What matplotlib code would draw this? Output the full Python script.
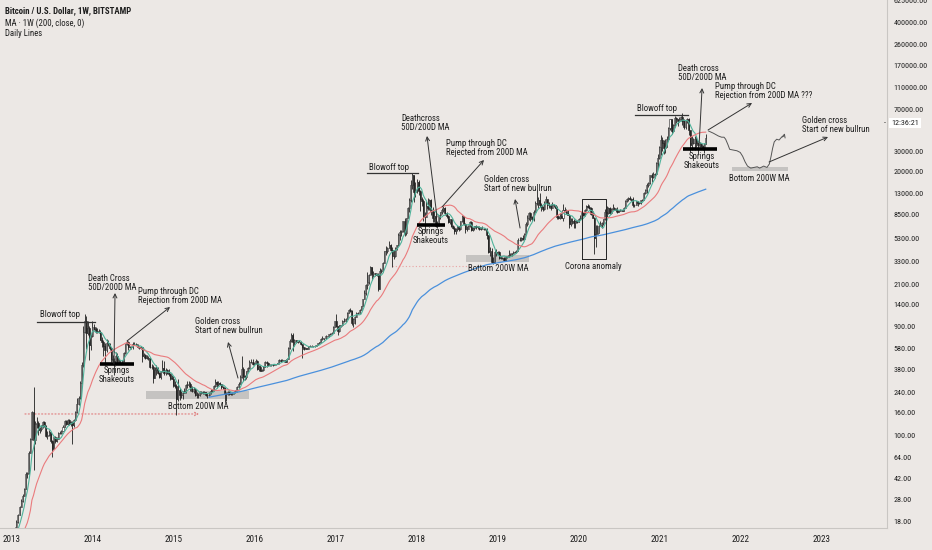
import numpy as np
import pandas as pd
import matplotlib
matplotlib.use('Agg')
from matplotlib import pyplot as plt
from matplotlib import font_manager
from matplotlib.ticker import FixedLocator, FuncFormatter, NullLocator

# weekly closes before the first visible candle (feed the moving averages only)
# 2011-08-15 .. 2012-12-24
early_closes = [11.0, 8.6, 8.2, 7.2, 5.7, 5.3, 4.9, 5.0, 4.1, 3.2,
                3.2, 3.3, 3.0, 2.6, 2.4, 2.8, 3.0, 3.2, 3.9, 4.2,
                6.8, 6.4, 6.3, 5.6, 5.9, 5.6, 4.4, 4.6, 4.9, 4.9,
                5.3, 4.7, 4.9, 4.9, 4.9, 5.0, 5.1, 5.0, 5.1, 5.0,
                5.1, 5.1, 5.4, 5.9, 6.4, 6.7, 6.7, 7.6, 8.5, 8.9,
                9.1, 10.9, 11.5, 10.2, 10.6, 11.0, 11.7, 12.3, 12.4, 12.5,
                12.0, 11.7, 10.9, 10.6, 10.9, 11.2, 12.3, 12.5, 13.3, 13.5,
                13.3, 13.4]

# weekly candles, BITSTAMP, 2012-12-31 .. 2021-07-26
closes_2013 = [13.5, 13.7, 14.2, 17.5, 20.4, 24.0, 27.0, 30.0, 34.5, 46.0,
               47.0, 70.0, 93.0, 162, 91, 127, 128, 112, 115, 123,
               131, 122, 100, 102, 108, 90, 76, 98, 89, 94,
               105, 106, 110, 120, 135, 127, 138, 126, 132, 123,
               137, 160, 190, 211, 290, 410, 800, 1000, 790, 870,
               620, 740, 880]
highs_2013 = [13.8, 14.1, 16.0, 18.5, 20.8, 24.5, 28.0, 31.0, 35.0, 48.5,
              48.5, 74.0, 95.0, 165, 266, 135, 145, 135, 118, 125,
              135, 133, 125, 110, 112, 108, 92, 99, 100, 97,
              108, 109, 113, 124, 137, 136, 140, 140, 134, 133,
              140, 165, 215, 222, 300, 440, 900, 1163, 1100, 1000,
              910, 770, 1010]
lows_2013 = [13.0, 13.3, 13.6, 14.2, 17.3, 20.3, 24.0, 26.5, 29.5, 34.0,
             43.0, 46.0, 70.0, 92, 50, 84, 116, 101, 105, 110,
             117, 118, 98, 94, 99, 86, 65, 76, 86, 88,
             93, 103, 104, 110, 120, 123, 125, 125, 121, 85,
             118, 135, 158, 185, 208, 285, 400, 780, 576, 760,
             455, 560, 720]

closes_2014 = [860, 820, 800, 810, 690, 650, 610, 560, 640, 630,
               580, 470, 450, 420, 500, 440, 440, 440, 450, 525,
               630, 655, 595, 595, 590, 635, 625, 620, 595, 585,
               590, 500, 505, 480, 475, 475, 400, 400, 320, 375,
               390, 355, 325, 365, 390, 350, 375, 350, 345, 320,
               315, 275]
highs_2014 = [950, 880, 870, 850, 830, 720, 690, 640, 700, 680,
              640, 590, 510, 480, 540, 530, 470, 460, 460, 535,
              635, 680, 670, 610, 610, 650, 650, 640, 630, 600,
              600, 595, 530, 520, 510, 500, 480, 420, 410, 400,
              410, 400, 360, 370, 460, 450, 390, 385, 380, 355,
              335, 330]
lows_2014 = [840, 790, 780, 790, 680, 590, 500, 410, 540, 600,
             560, 440, 420, 340, 420, 430, 420, 430, 430, 440,
             520, 620, 560, 580, 570, 575, 615, 615, 580, 570,
             575, 440, 480, 470, 470, 460, 390, 380, 290, 320,
             340, 345, 320, 315, 360, 340, 340, 345, 330, 305,
             310, 265]

closes_2015 = [270, 210, 250, 225, 225, 235, 245, 275, 275, 285,
               260, 245, 255, 225, 225, 225, 240, 240, 237, 240,
               225, 225, 235, 245, 250, 270, 295, 280, 290, 280,
               265, 260, 230, 230, 240, 230, 230, 235, 240, 245,
               265, 285, 325, 380, 330, 325, 370, 390, 435, 440,
               425, 430]
highs_2015 = [300, 285, 310, 260, 245, 245, 260, 285, 300, 300,
              295, 270, 265, 260, 240, 237, 245, 245, 245, 245,
              240, 235, 238, 255, 255, 275, 315, 300, 300, 295,
              285, 270, 265, 240, 245, 245, 235, 240, 245, 250,
              270, 295, 340, 500, 395, 340, 370, 395, 460, 470,
              465, 440]
lows_2015 = [260, 152, 200, 205, 215, 210, 235, 235, 260, 265,
             245, 240, 235, 220, 215, 215, 220, 232, 232, 232,
             222, 215, 220, 230, 240, 245, 265, 260, 270, 275,
             255, 255, 195, 200, 225, 225, 225, 225, 230, 235,
             240, 260, 280, 320, 300, 305, 315, 360, 380, 430,
             410, 415]

closes_2016 = [450, 380, 400, 370, 375, 400, 435, 430, 410, 415,
               412, 415, 420, 420, 430, 460, 450, 460, 455, 440,
               470, 580, 670, 760, 660, 680, 650, 660, 660, 625,
               590, 565, 580, 575, 605, 605, 605, 600, 610, 615,
               640, 655, 700, 705, 705, 740, 735, 765, 775, 790,
               890, 995]
highs_2016 = [465, 460, 410, 410, 385, 405, 445, 445, 440, 420,
              420, 420, 425, 425, 432, 465, 468, 465, 460, 460,
              475, 590, 700, 780, 780, 700, 680, 670, 680, 665,
              630, 595, 590, 585, 610, 615, 615, 610, 615, 620,
              645, 660, 705, 740, 715, 750, 745, 770, 780, 800,
              900, 1000]
lows_2016 = [425, 375, 370, 365, 365, 370, 400, 400, 405, 405,
             405, 405, 410, 415, 420, 425, 440, 445, 440, 435,
             440, 470, 570, 660, 550, 600, 640, 640, 650, 620,
             480, 560, 565, 570, 570, 600, 600, 590, 595, 605,
             615, 630, 650, 680, 690, 700, 725, 730, 750, 765,
             785, 880]

closes_2017 = [900, 820, 920, 915, 1010, 995, 1050, 1180, 1260, 1230,
               970, 1040, 1090, 1180, 1180, 1240, 1345, 1550, 1750, 2050,
               2200, 2520, 2950, 2550, 2600, 2500, 2500, 1920, 2750, 2750,
               3200, 4050, 4050, 4350, 4600, 4200, 3700, 3700, 4370, 4600,
               5650, 6000, 6150, 7400, 5850, 8000, 9700, 11300, 15500, 19000,
               13500, 13800]
highs_2017 = [1150, 910, 930, 925, 1020, 1060, 1060, 1200, 1280, 1300,
              1250, 1065, 1100, 1200, 1210, 1270, 1350, 1560, 1850, 2100,
              2700, 2550, 3000, 2990, 2750, 2600, 2640, 2620, 2900, 2850,
              3250, 4100, 4480, 4400, 4980, 4700, 4400, 4130, 4400, 4650,
              5860, 6200, 6200, 7500, 7900, 8000, 9800, 11800, 17000, 19666,
              18000, 16500]
lows_2017 = [880, 750, 800, 880, 910, 975, 990, 1040, 1170, 1200,
             930, 890, 935, 1080, 1150, 1180, 1240, 1350, 1550, 1700,
             1900, 2100, 2500, 2300, 2400, 2450, 2450, 1840, 2200, 2600,
             2670, 3200, 3800, 3950, 4300, 4100, 2950, 3500, 3600, 4150,
             4550, 5100, 5500, 6000, 5500, 5600, 7900, 9000, 11000, 14300,
             11000, 12000]

closes_2018 = [16200, 13600, 11500, 11100, 8200, 8100, 10100, 9600, 11400, 9100,
               7900, 8300, 6800, 7000, 8350, 8900, 9350, 9700, 8700, 8200,
               7350, 7700, 6750, 6450, 6150, 6400, 6750, 6350, 7400, 8200,
               7000, 6300, 6400, 6700, 7300, 6200, 6500, 6700, 6600, 6600,
               6300, 6400, 6400, 6400, 6350, 5600, 4000, 4100, 3250, 3200,
               4000, 3850, 4000]
highs_2018 = [17250, 17100, 14000, 12000, 11700, 9000, 11200, 11800, 11700, 11600,
              9900, 9100, 8950, 7500, 8450, 9000, 9750, 10000, 9900, 8900,
              8500, 7800, 7800, 6900, 6750, 6550, 6800, 6800, 7500, 8500,
              8250, 7150, 6700, 6900, 7400, 7400, 6600, 6800, 6900, 6800,
              6750, 6600, 6700, 6500, 6500, 6450, 5650, 4400, 4350, 3600,
              4150, 4250, 4100]
lows_2018 = [13200, 12700, 9200, 10100, 7400, 6000, 8100, 9300, 9400, 8350,
             7300, 7300, 6650, 6550, 6750, 7800, 8650, 9000, 8350, 7850,
             7100, 7000, 6650, 6400, 5750, 5800, 6100, 6100, 6250, 7350,
             6950, 5900, 6100, 6300, 6650, 6150, 6150, 6250, 6300, 6400,
             6200, 6200, 6400, 6200, 6250, 5200, 3900, 3700, 3200, 3122,
             3300, 3700, 3850]

closes_2019 = [3550, 3550, 3550, 3400, 3650, 3650, 3750, 3850, 3900, 3980,
               3980, 4120, 5050, 5050, 5300, 5250, 5750, 7050, 8000, 8700,
               8050, 7700, 9000, 10700, 10800, 11400, 10250, 9850, 9500, 10800,
               11550, 10200, 10150, 9600, 10350, 10300, 9700, 8050, 7850, 8300,
               7950, 9250, 9200, 8800, 8500, 7050, 7400, 7500, 7100, 7500,
               7300, 7750]
highs_2019 = [4100, 3700, 3650, 3600, 3700, 3700, 4200, 3950, 3950, 4050,
              4050, 4150, 5300, 5450, 5400, 5650, 5850, 7350, 8350, 8950,
              8950, 8200, 9350, 11250, 13880, 12000, 13200, 10700, 10150, 11100,
              12300, 11650, 10900, 10450, 10900, 10550, 10250, 10000, 8500, 8700,
              8750, 10500, 9950, 9450, 9250, 8600, 7850, 7900, 7700, 7650,
              7550, 7850]
lows_2019 = [3500, 3450, 3450, 3350, 3350, 3550, 3600, 3700, 3700, 3850,
             3950, 3950, 4100, 4950, 5000, 5050, 5300, 5600, 6800, 7550,
             7400, 7450, 7450, 9000, 10300, 9700, 9800, 9100, 9100, 9350,
             10900, 9500, 9600, 9400, 9600, 9900, 9650, 7750, 7700, 7800,
             7850, 7400, 8950, 8700, 8400, 6550, 6800, 7050, 6500, 6450,
             7100, 7250]

closes_2020 = [8000, 8900, 8350, 9350, 10150, 9900, 9650, 8550, 8000, 5350,
               5800, 5900, 6800, 6900, 7100, 7700, 8900, 8700, 9700, 8700,
               9450, 9750, 9450, 9300, 9000, 9050, 9300, 9200, 9700, 11050,
               11700, 11900, 11650, 11700, 10250, 10300, 11100, 10700, 10650, 11300,
               11350, 13100, 13800, 15500, 16000, 18700, 18200, 19150, 19250, 23800,
               26300, 33000]
highs_2020 = [8450, 9000, 8950, 9550, 10200, 10500, 10300, 9950, 9200, 8150,
              6900, 6950, 7200, 7450, 7300, 7750, 9450, 10050, 9950, 9850,
              9600, 10400, 9950, 9600, 9800, 9350, 9450, 9400, 9800, 11450,
              11950, 12100, 12450, 11750, 12100, 10600, 11150, 11000, 11000, 11450,
              11700, 13350, 14100, 15950, 16450, 18800, 19400, 19900, 19450, 24200,
              28400, 34000]
lows_2020 = [7700, 7950, 8250, 8250, 9150, 9700, 9450, 8450, 7900, 3850,
             4450, 5700, 5900, 6850, 6500, 6850, 7600, 8100, 8600, 8650,
             8600, 9400, 9250, 9000, 8850, 8900, 9050, 9050, 9150, 9650,
             10900, 11150, 11400, 11100, 9900, 9900, 10200, 10150, 10600, 10550,
             11250, 11400, 12850, 13200, 14800, 15700, 16200, 17600, 17700, 19000,
             21800, 26000]

closes_2021 = [38200, 36000, 32300, 33100, 38900, 48600, 57500, 45200, 50900, 59000,
               57500, 55800, 57900, 59900, 56200, 49000, 56600, 58200, 46400, 34700,
               35600, 35800, 39000, 35700, 34700, 35300, 33800, 31800, 35400, 39900]
highs_2021 = [41950, 40100, 37850, 38650, 40950, 49700, 58350, 57500, 52650, 61800,
              60900, 58400, 60000, 61300, 64850, 57500, 57900, 59500, 59600, 46600,
              40900, 39500, 40950, 41300, 36700, 36600, 35950, 34600, 35500, 42600]
lows_2021 = [28200, 30400, 28900, 29250, 32900, 37300, 46700, 43000, 44950, 49300,
             53300, 50300, 55000, 55500, 51000, 47000, 47100, 53400, 42100, 30000,
             31200, 34800, 31000, 33000, 28800, 32700, 32700, 31100, 29300, 35000]

# hand drawn projection after the last candle (decimal year, price)
proj_year = [2021.60, 2021.66, 2021.72, 2021.76, 2021.79, 2021.81, 2021.84, 2021.86,
             2021.90, 2021.95, 2021.99, 2022.02, 2022.05, 2022.08, 2022.12, 2022.16,
             2022.20, 2022.23, 2022.28, 2022.32, 2022.35, 2022.37, 2022.39, 2022.41,
             2022.44, 2022.47, 2022.50, 2022.53]
proj_price = [45500, 43500, 41200, 40200, 40200, 38600, 34400, 31500,
              31100, 30600, 29600, 27400, 24500, 22500, 21600, 21900,
              22200, 21600, 22500, 21900, 23500, 27200, 32200, 36600,
              38600, 38000, 40200, 41200]

price_ticks = [18, 28, 42, 64, 100, 160, 240, 380, 580, 900, 1400, 2100, 3300, 5300,
               8500, 13000, 20000, 30000, 70000, 110000, 170000, 260000, 400000, 625000]
year_ticks = list(range(2013, 2024))

closes = np.array(closes_2013 + closes_2014 + closes_2015 + closes_2016 + closes_2017
                  + closes_2018 + closes_2019 + closes_2020 + closes_2021, dtype=float)
highs = np.array(highs_2013 + highs_2014 + highs_2015 + highs_2016 + highs_2017
                 + highs_2018 + highs_2019 + highs_2020 + highs_2021, dtype=float)
lows = np.array(lows_2013 + lows_2014 + lows_2015 + lows_2016 + lows_2017
                + lows_2018 + lows_2019 + lows_2020 + lows_2021, dtype=float)


def dec_year(d):
    return np.asarray(d.year + (d.dayofyear - 1) / 365.25, dtype=float)


weeks = pd.date_range('2012-12-31', periods=len(closes), freq='7D')
all_weeks = pd.date_range('2011-08-15', periods=len(early_closes) + len(closes), freq='7D')
x = dec_year(weeks)
x_all = dec_year(all_weeks)

opens = np.r_[early_closes[-1], closes[:-1]]
highs = np.maximum(highs, np.maximum(opens, closes))
lows = np.minimum(lows, np.minimum(opens, closes))

full = pd.Series(list(early_closes) + list(closes))
ma_50d = full.rolling(7).mean()
ma_200d = full.rolling(29).mean()
ma_200w = full.rolling(200).mean()

# fonts: pick a narrow family if one is installed
names = {f.name for f in font_manager.fontManager.ttflist}
font = 'DejaVu Sans'
for cand in ['Liberation Sans Narrow', 'Roboto Condensed', 'Open Sans Condensed', 'DejaVu Sans Condensed']:
    if cand in names:
        font = cand
        break
plt.rcParams['font.family'] = [font, 'DejaVu Sans']

bg = '#ece8e5'
ink = '#1e1e1e'
fig = plt.figure(figsize=(9.32, 5.5), dpi=100, facecolor=bg)
ax = fig.add_axes([0, 22 / 550, 887 / 932, 528 / 550])
ax.set_facecolor(bg)
ax.set_yscale('log')
ax.set_xlim(2012.852, 2023.802)
ax.set_ylim(15.64, 633000)

# zones
def zone(x0, x1, p0, p1):
    ax.fill_between([x0, x1], p0, p1, color='#c5c3c1', lw=0, zorder=1)

zone(2014.654, 2015.926, 209, 245)
zone(2018.605, 2019.383, 3276, 3770)
zone(2021.889, 2022.580, 20380, 22090)

# dotted support lines
ax.annotate('', xy=(2015.31, 154.6), xytext=(2013.16, 154.6),
            arrowprops=dict(arrowstyle='->', color='#e07b7b', lw=0.8, ls=(0, (1, 2)),
                            shrinkA=0, shrinkB=0, mutation_scale=6), zorder=2)
ax.plot([2017.691, 2018.654], [3022, 3022], color='#e9a3a3', lw=0.8, ls=(0, (1, 2)), zorder=2)

# candles
w = 0.0125
ax.vlines(x, lows, highs, color=ink, lw=0.6, zorder=3)
up = closes >= opens
ax.bar(x[up], (closes - opens)[up], bottom=opens[up], width=w, color='white',
       edgecolor=ink, lw=0.4, zorder=3)
ax.bar(x[~up], (opens - closes)[~up], bottom=closes[~up], width=w, color=ink,
       edgecolor=ink, lw=0.4, zorder=3)

# moving averages
ax.plot(x_all, ma_50d, color='#4fb39b', lw=0.8, zorder=4)
ax.plot(x_all, ma_200d, color='#ea7b7d', lw=0.8, zorder=4)
ax.plot(x_all, ma_200w, color='#4a90dc', lw=0.9, zorder=4)

# projection
ax.plot(proj_year, proj_price, color='#555555', lw=0.7, zorder=4)
ax.annotate('', xy=(2022.54, 43500), xytext=(proj_year[-1], proj_price[-1]),
            arrowprops=dict(arrowstyle='->', color='#555555', lw=0.7, shrinkA=0, shrinkB=0,
                            mutation_scale=6), zorder=4)

tkw = dict(fontsize=6.3, color=ink, zorder=6, linespacing=1.0)

# horizontal top lines
for x0, x1, p in [(2013.309, 2014.025, 981), (2017.383, 2018.012, 19580), (2020.691, 2021.346, 62800)]:
    ax.plot([x0, x1], [p, p], color='#333333', lw=0.9, zorder=5)

# springs / shakeouts bars
for x0, x1, p in [(2014.086, 2014.506, 422), (2018.0, 2018.346, 6890), (2021.284, 2021.704, 31720)]:
    ax.plot([x0, x1], [p, p], color='black', lw=2.6, solid_capstyle='butt', zorder=5)

# arrows
arrows = [((2014.259, 422), (2014.272, 1757)),
          ((2014.420, 670), (2014.951, 1326)),
          ((2015.790, 318), (2015.667, 657)),
          ((2018.247, 8093), (2018.123, 41190)),
          ((2018.309, 9891), (2018.827, 25430)),
          ((2019.272, 6485), (2019.210, 11615)),
          ((2021.481, 33010), (2021.519, 108000)),
          ((2021.593, 46470), (2022.136, 79950)),
          ((2022.346, 24430), (2023.074, 40370))]
for start, end in arrows:
    ax.annotate('', xy=end, xytext=start,
                arrowprops=dict(arrowstyle='->', color='#333333', lw=0.7, shrinkA=0,
                                shrinkB=0, mutation_scale=7), zorder=5)

# corona box
ax.plot([2020.037, 2020.333, 2020.333, 2020.037, 2020.037],
        [3480, 3480, 11615, 11615, 3480], color='#222222', lw=0.7, zorder=5)

labels = [
    ('Blowoff top', 2013.346, 1130, 'left'),
    ('Death Cross\n50D/200D MA', 2013.938, 2149, 'left'),
    ('Pump through DC\nRejection from 200D MA', 2014.556, 1654, 'left'),
    ('Springs\nShakeouts', 2014.296, 338, 'center'),
    ('Golden cross\nStart of new bullrun', 2015.259, 905, 'left'),
    ('Bottom 200W MA', 2015.296, 181, 'center'),
    ('Blowoff top', 2017.407, 22090, 'left'),
    ('Deathcross\n50D/200D MA', 2017.802, 53500, 'left'),
    ('Pump through DC\nRejected from 200D MA', 2018.358, 32370, 'left'),
    ('Springs\nShakeouts', 2018.173, 5524, 'center'),
    ('Golden cross\nStart of new bullrun', 2018.827, 15700, 'left'),
    ('Bottom 200W MA', 2019.0, 2846, 'center'),
    ('Corona anomaly', 2020.179, 2963, 'center'),
    ('Blowoff top', 2020.716, 70850, 'left'),
    ('Death cross\n50D/200D MA', 2021.222, 146000, 'left'),
    ('Pump through DC\nRejection from 200D MA ???', 2021.679, 100760, 'left'),
    ('Springs\nShakeouts', 2021.519, 24930, 'center'),
    ('Bottom 200W MA', 2022.222, 17710, 'center'),
    ('Golden cross\nStart of new bullrun', 2022.753, 51380, 'left'),
]
for text, tx, ty, ha in labels:
    ax.text(tx, ty, text, ha=ha, va='center', multialignment=ha, **tkw)

# axes styling
for s in ['top', 'left']:
    ax.spines[s].set_visible(False)
for s in ['right', 'bottom']:
    ax.spines[s].set_color('#c9c6c3')
    ax.spines[s].set_linewidth(0.8)
ax.yaxis.tick_right()
ax.yaxis.set_major_locator(FixedLocator(price_ticks))
ax.yaxis.set_minor_locator(NullLocator())
ax.yaxis.set_major_formatter(FuncFormatter(lambda v, p: '%.2f' % v))
ax.set_xticks(year_ticks)
ax.set_xticklabels([str(y) for y in year_ticks])
ax.tick_params(axis='x', length=0, labelsize=6.6, colors=ink, pad=5)
ax.tick_params(axis='y', length=0, labelsize=5.8, colors=ink, pad=4.5)

# header
fig.text(5 / 932, 1 - 10.5 / 550, 'Bitcoin / U.S. Dollar, 1W, BITSTAMP', fontsize=6.3,
         fontweight='bold', color=ink, va='center')
fig.text(5 / 932, 1 - 23 / 550, 'MA · 1W (200, close, 0)', fontsize=6.3, color=ink, va='center')
fig.text(5 / 932, 1 - 34 / 550, 'Daily Lines', fontsize=6.3, color=ink, va='center')

# bar countdown tag
fig.text(891 / 932, 1 - 123 / 550, '12:36:21', fontsize=5.8, color=ink, va='center',
         bbox=dict(boxstyle='square,pad=0.3', fc='white', ec='none'))
fig.text(884 / 932, 1 - 123 / 550, '-', fontsize=5.8, color=ink, va='center')

fig.savefig('out.png', dpi=100, facecolor=bg)
